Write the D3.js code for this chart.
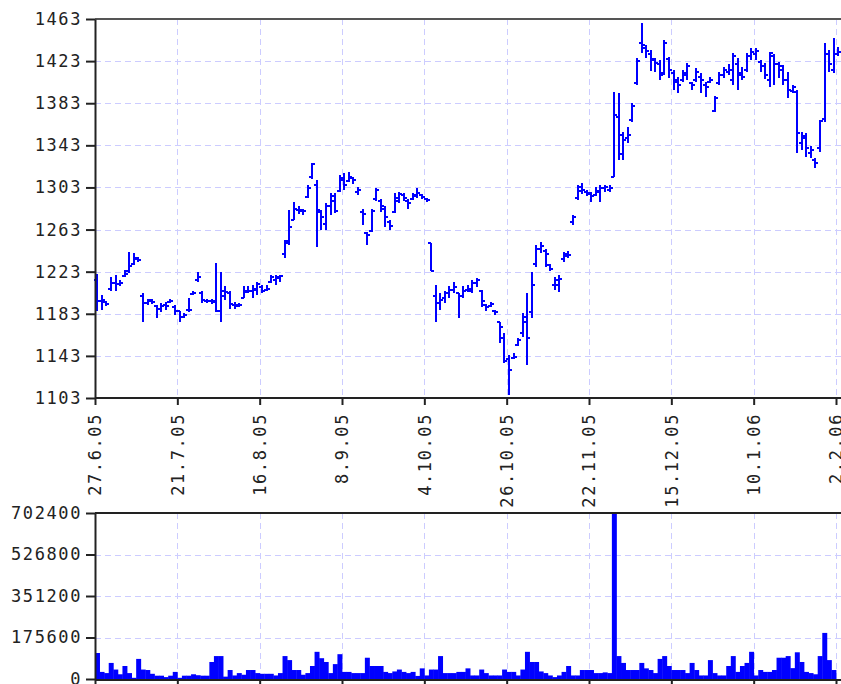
<!DOCTYPE html>
<html>
<head>
<meta charset="utf-8">
<script src="https://cdn.jsdelivr.net/npm/d3@7"></script>
<style>
  html, body { margin: 0; padding: 0; background: #fff; }
  svg { display: block; }
  text { font-family: "DejaVu Sans Mono", monospace; font-size: 17px; fill: #222; letter-spacing: 1.6px; }
</style>
</head>
<body>
<svg id="chart" width="841" height="684"></svg>
<script>
// date labels every 18 trading days
var tickLabels = ['27.6.05', '21.7.05', '16.8.05', '8.9.05', '4.10.05', '26.10.05', '22.11.05', '15.12.05', '10.1.06', '2.2.06'];
var tickIndex = [0, 18, 36, 54, 72, 90, 108, 126, 144, 162];
var priceTicks = [1103, 1143, 1183, 1223, 1263, 1303, 1343, 1383, 1423, 1463];
var volumeTicks = [0, 175600, 351200, 526800, 702400];

var opens = [
  1215, 1195, 1194, 1207, 1212, 1211, 1219, 1224, 1230, 1236, 1200, 1193, 1196, 1190, 1188, 1191, 1194, 1189, 1186, 1180,
  1187, 1202, 1215, 1203, 1195, 1195, 1195, 1186, 1200, 1203, 1191, 1190, 1198, 1204, 1205, 1206, 1208, 1206, 1213, 1215,
  1217, 1240, 1252, 1272, 1282, 1281, 1294, 1313, 1305, 1280, 1268, 1285, 1290, 1300, 1310, 1309, 1312, 1299, 1280, 1260,
  1262, 1292, 1290, 1283, 1270, 1280, 1290, 1296, 1290, 1292, 1295, 1296, 1292, 1250, 1200, 1193, 1198, 1203, 1206, 1203,
  1200, 1206, 1205, 1212, 1205, 1191, 1190, 1186, 1175, 1160, 1140, 1141, 1153, 1165, 1180, 1185, 1230, 1245, 1243, 1229,
  1210, 1210, 1235, 1238, 1270, 1293, 1300, 1299, 1297, 1296, 1299, 1302, 1301, 1313, 1370, 1335, 1350, 1367, 1402, 1440,
  1435, 1430, 1424, 1420, 1412, 1425, 1412, 1403, 1405, 1410, 1402, 1405, 1408, 1400, 1403, 1376, 1402, 1410, 1413, 1405,
  1420, 1412, 1415, 1428, 1430, 1422, 1418, 1405, 1428, 1420, 1415, 1405, 1395, 1394, 1345, 1350, 1336, 1329, 1340, 1368,
  1430, 1415, 1430
];
var highs = [
  1221, 1201, 1195, 1218, 1220, 1215, 1225, 1242, 1241, 1237, 1203, 1197, 1197, 1191, 1193, 1194, 1197, 1191, 1186, 1184,
  1198, 1205, 1223, 1205, 1197, 1197, 1231, 1223, 1209, 1205, 1194, 1193, 1209, 1209, 1210, 1213, 1210, 1210, 1220, 1220,
  1220, 1253, 1282, 1289, 1285, 1283, 1305, 1326, 1310, 1282, 1288, 1298, 1298, 1315, 1317, 1318, 1313, 1303, 1283, 1261,
  1283, 1302, 1292, 1285, 1272, 1298, 1299, 1298, 1292, 1298, 1302, 1297, 1293, 1250, 1210, 1203, 1205, 1209, 1213, 1203,
  1209, 1210, 1215, 1217, 1206, 1192, 1194, 1187, 1175, 1165, 1144, 1146, 1160, 1184, 1203, 1223, 1248, 1251, 1245, 1230,
  1218, 1220, 1242, 1243, 1277, 1305, 1307, 1301, 1299, 1303, 1305, 1305, 1305, 1394, 1393, 1356, 1360, 1383, 1426, 1459,
  1438, 1434, 1426, 1424, 1443, 1427, 1415, 1408, 1415, 1421, 1403, 1416, 1412, 1403, 1408, 1390, 1413, 1417, 1420, 1431,
  1426, 1417, 1431, 1435, 1435, 1424, 1421, 1432, 1430, 1422, 1419, 1413, 1400, 1396, 1356, 1355, 1342, 1331, 1367, 1440,
  1434, 1445, 1436
];
var lows = [
  1186, 1187, 1190, 1205, 1205, 1209, 1218, 1222, 1229, 1232, 1175, 1191, 1192, 1179, 1185, 1187, 1193, 1182, 1175, 1179,
  1185, 1201, 1213, 1193, 1193, 1192, 1185, 1175, 1196, 1188, 1188, 1189, 1198, 1203, 1198, 1201, 1203, 1205, 1212, 1210,
  1213, 1236, 1248, 1272, 1278, 1277, 1293, 1311, 1246, 1263, 1263, 1277, 1279, 1299, 1301, 1308, 1306, 1296, 1267, 1248,
  1261, 1290, 1280, 1265, 1263, 1279, 1288, 1290, 1283, 1291, 1293, 1292, 1289, 1224, 1175, 1187, 1193, 1198, 1203, 1179,
  1198, 1204, 1203, 1208, 1189, 1186, 1189, 1182, 1155, 1136, 1106, 1140, 1152, 1161, 1134, 1179, 1227, 1241, 1227, 1224,
  1206, 1204, 1232, 1236, 1267, 1291, 1297, 1295, 1289, 1295, 1289, 1299, 1299, 1313, 1329, 1329, 1345, 1365, 1400, 1431,
  1426, 1414, 1413, 1405, 1410, 1407, 1396, 1393, 1403, 1405, 1396, 1403, 1393, 1389, 1402, 1375, 1400, 1407, 1410, 1400,
  1396, 1405, 1413, 1424, 1424, 1413, 1406, 1398, 1400, 1407, 1400, 1388, 1393, 1336, 1339, 1332, 1331, 1321, 1337, 1365,
  1413, 1412, 1428
];
var closes = [
  1195, 1196, 1192, 1212, 1211, 1212, 1221, 1228, 1235, 1234, 1193, 1195, 1194, 1188, 1190, 1190, 1195, 1186, 1180, 1182,
  1187, 1203, 1218, 1196, 1195, 1194, 1186, 1205, 1204, 1192, 1191, 1191, 1205, 1205, 1207, 1211, 1205, 1207, 1218, 1218,
  1219, 1250, 1265, 1283, 1282, 1281, 1302, 1325, 1282, 1275, 1285, 1295, 1281, 1312, 1305, 1313, 1310, 1301, 1278, 1258,
  1281, 1301, 1285, 1275, 1266, 1293, 1297, 1293, 1288, 1296, 1298, 1294, 1291, 1224, 1193, 1196, 1203, 1206, 1208, 1200,
  1205, 1207, 1212, 1215, 1195, 1189, 1192, 1185, 1170, 1138, 1130, 1142, 1158, 1175, 1160, 1210, 1245, 1247, 1240, 1226,
  1215, 1216, 1240, 1239, 1275, 1303, 1301, 1298, 1295, 1300, 1302, 1303, 1302, 1372, 1353, 1348, 1353, 1380, 1423, 1438,
  1433, 1425, 1421, 1410, 1440, 1415, 1405, 1400, 1412, 1418, 1400, 1413, 1405, 1398, 1405, 1388, 1410, 1415, 1415, 1428,
  1410, 1408, 1428, 1432, 1433, 1418, 1410, 1431, 1420, 1418, 1405, 1396, 1398, 1355, 1352, 1340, 1339, 1326, 1366, 1430,
  1420, 1430, 1432
];
var volumes = [
  110000, 30000, 25000, 68000, 40000, 20000, 55000, 25000, 5000, 85000, 40000, 38000, 22000, 14000, 14000, 8000, 14000, 30000, 5000, 14000,
  14000, 20000, 16000, 14000, 14000, 72000, 97000, 97000, 10000, 38000, 15000, 25000, 18000, 38000, 38000, 25000, 22000, 22000, 22000, 15000,
  25000, 97000, 80000, 38000, 38000, 18000, 25000, 55000, 115000, 88000, 72000, 25000, 63000, 105000, 30000, 30000, 25000, 25000, 25000, 90000,
  55000, 55000, 55000, 30000, 25000, 32000, 40000, 30000, 25000, 30000, 13000, 45000, 15000, 40000, 40000, 97000, 25000, 25000, 25000, 30000,
  30000, 45000, 15000, 15000, 40000, 25000, 15000, 15000, 15000, 40000, 30000, 30000, 15000, 40000, 115000, 72000, 72000, 32000, 25000, 15000,
  8000, 15000, 30000, 55000, 15000, 15000, 38000, 38000, 38000, 25000, 25000, 28000, 25000, 702400, 97000, 68000, 38000, 38000, 38000, 68000,
  45000, 38000, 25000, 85000, 97000, 55000, 38000, 38000, 38000, 25000, 68000, 38000, 15000, 15000, 80000, 25000, 15000, 15000, 55000, 97000,
  30000, 55000, 68000, 115000, 15000, 38000, 30000, 30000, 38000, 90000, 90000, 97000, 46000, 113000, 72000, 30000, 25000, 20000, 97000, 195000,
  80000, 38000, 0
];

var left = 95, right = 841;
var priceTop = 19, priceBottom = 398;
var volTop = 513, volBottom = 679;
var barColor = '#0000ff';
var gridColor = '#ccccff';

var svg = d3.select('#chart');

var x = d3.scaleLinear().domain([0, 162]).range([left, 836]);
var step = x(1) - x(0);
var yPrice = d3.scaleLinear().domain([1103, 1463]).range([priceBottom, priceTop]);
var yVol = d3.scaleLinear().domain([0, 702400]).range([volBottom, volTop]);

function drawGrid(y, values, top, bottom) {
  var g = svg.append('g')
    .attr('stroke', gridColor)
    .attr('stroke-width', 1)
    .attr('stroke-dasharray', '6,4')
    .attr('shape-rendering', 'crispEdges');
  g.selectAll('.hgrid')
    .data(values.slice(1, values.length - 1))
    .enter().append('line')
    .attr('x1', left).attr('x2', right)
    .attr('y1', function(d){ return Math.round(y(d)) + 0.5; })
    .attr('y2', function(d){ return Math.round(y(d)) + 0.5; });
  g.selectAll('.vgrid')
    .data(tickIndex.slice(1))
    .enter().append('line')
    .attr('x1', function(d){ return Math.round(x(d)) + 0.5; })
    .attr('x2', function(d){ return Math.round(x(d)) + 0.5; })
    .attr('y1', top).attr('y2', bottom);
}

drawGrid(yPrice, priceTicks, priceTop, priceBottom);
drawGrid(yVol, volumeTicks, volTop, volBottom);

/* price bars: high-low line, open tick left, close tick right */
svg.append('g')
  .selectAll('path')
  .data(d3.range(closes.length))
  .enter().append('path')
  .attr('d', function(i){
    var c = Math.round(x(i) + step / 2);
    var yo = Math.round(yPrice(opens[i])), yc = Math.round(yPrice(closes[i]));
    return 'M' + c + ',' + Math.round(yPrice(highs[i])) + 'V' + Math.round(yPrice(lows[i])) +
      'M' + (c - 3) + ',' + yo + 'H' + c +
      'M' + c + ',' + yc + 'H' + (c + 3);
  })
  .attr('fill', 'none')
  .attr('stroke', barColor)
  .attr('stroke-width', 2)
  .attr('shape-rendering', 'crispEdges');

/* volume bars */
svg.append('g')
  .selectAll('rect')
  .data(d3.range(volumes.length))
  .enter().append('rect')
  .attr('x', function(i){ return x(i); })
  .attr('width', step + 0.4)
  .attr('y', function(i){ return yVol(volumes[i]); })
  .attr('height', function(i){ return volBottom + 1 - yVol(volumes[i]); })
  .attr('fill', barColor);

// top frames
svg.append('line')
  .attr('x1', left).attr('x2', right).attr('y1', priceTop).attr('y2', priceTop)
  .attr('stroke', '#555').attr('stroke-width', 2);
svg.append('line')
  .attr('x1', left).attr('x2', right).attr('y1', volTop).attr('y2', volTop)
  .attr('stroke', '#222').attr('stroke-width', 2);

function styleAxis(g) {
  g.attr('font-family', null).attr('font-size', null);
  g.selectAll('.domain').attr('stroke', '#222').attr('stroke-width', 2);
  g.selectAll('.tick line').attr('stroke', '#222').attr('stroke-width', 2);
  g.selectAll('text').attr('fill', '#222');
}

var yAxisPrice = svg.append('g')
  .attr('transform', 'translate(' + left + ',0)')
  .call(d3.axisLeft(yPrice).tickValues(priceTicks).tickSize(9).tickSizeOuter(0).tickPadding(4).tickFormat(d3.format('d')));
styleAxis(yAxisPrice);

var yAxisVol = svg.append('g')
  .attr('transform', 'translate(' + left + ',0)')
  .call(d3.axisLeft(yVol).tickValues(volumeTicks).tickSize(9).tickSizeOuter(0).tickPadding(4).tickFormat(d3.format('d')));
styleAxis(yAxisVol);

var xAxisPrice = svg.append('g')
  .attr('transform', 'translate(0,' + priceBottom + ')')
  .call(d3.axisBottom(x).tickValues(tickIndex).tickSize(7).tickSizeOuter(0)
    .tickFormat(function(d, i){ return tickLabels[i]; }));
xAxisPrice.select('.domain').attr('d', 'M' + left + ',0H' + right);
xAxisPrice.selectAll('text')
  .attr('transform', 'rotate(-90)')
  .attr('x', -15)
  .attr('y', 0)
  .attr('dy', '0.35em')
  .style('text-anchor', 'end');
styleAxis(xAxisPrice);

var xAxisVol = svg.append('g')
  .attr('transform', 'translate(0,' + (volBottom + 1) + ')')
  .call(d3.axisBottom(x).tickValues(tickIndex).tickSize(5).tickSizeOuter(0).tickFormat(''));
xAxisVol.select('.domain').attr('d', 'M' + left + ',0H' + right);
styleAxis(xAxisVol);
</script>
</body>
</html>
